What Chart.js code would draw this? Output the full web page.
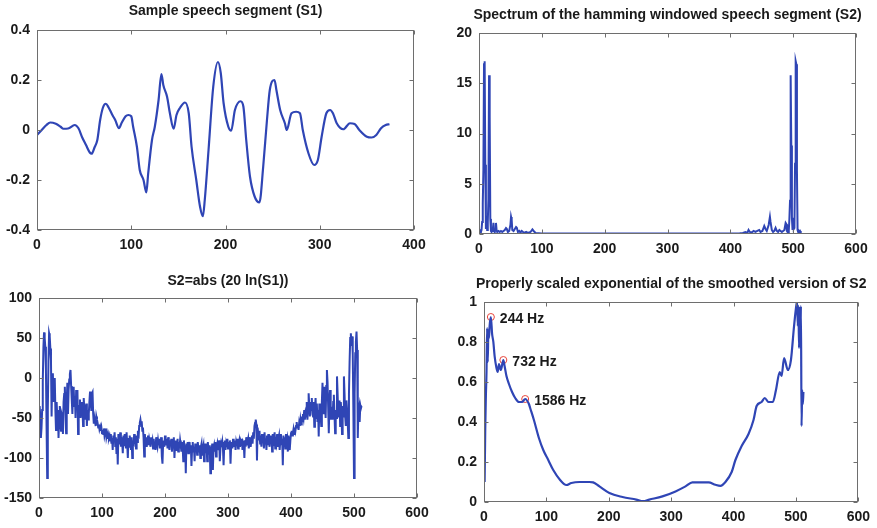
<!DOCTYPE html>
<html lang="en">
<head>
<meta charset="UTF-8">
<title>Speech segment analysis</title>
<script src="https://cdn.jsdelivr.net/npm/chart.js"></script>
<style>
  body { margin: 0; background: #fff; }
  .fig { position: relative; width: 877px; height: 528px; }
  .fig canvas { position: absolute; }
</style>
</head>
<body>
<div class="fig">
  <canvas id="c1" width="438" height="264" style="left:0;top:0"></canvas>
  <canvas id="c2" width="439" height="264" style="left:438px;top:0"></canvas>
  <canvas id="c3" width="438" height="264" style="left:0;top:264px"></canvas>
  <canvas id="c4" width="439" height="264" style="left:438px;top:264px"></canvas>
</div>
<script>
// S1: sample speech segment (sample index / amplitude)
const s1X = [0,5,10,14,20,25,28,33,40,44, 48,52,56,58,61,64,67,70,73,76,
  80,83,87,90,94,97,100,102,106,109, 113,116,118,122,125,129,132,134,138,141,
  145,148,152,157,161,164,169,173,176,178, 182,187,192,195,198,203,206,210,216,219,
  222,226,231,236,240,244,247,252,254,258, 263,265,270,275,279,282,288,294,298,302,
  307,311,314,318,325,332,337,342,350,355, 360,365,370,374];
const s1Y = [-0.02,0.0,0.02,0.03,0.025,0.013,0.005,0.006,0.02,0.007,
  -0.03,-0.06,-0.09,-0.095,-0.07,-0.04,0.04,0.09,0.105,0.09,
  0.06,0.04,0.007,0.03,0.055,0.06,0.055,0.013,-0.067,-0.16,
  -0.2,-0.25,-0.173,-0.04,0.013,0.12,0.224,0.18,0.133,0.067,
  0.005,0.06,0.09,0.11,0.067,-0.067,-0.2,-0.307,-0.345,-0.28,
  -0.08,0.173,0.272,0.227,0.107,0.013,-0.003,0.08,0.115,0.093,
  -0.04,-0.187,-0.267,-0.29,-0.147,0.04,0.16,0.2,0.16,0.08,
  0.027,0.0,0.067,0.073,0.067,0.0,-0.093,-0.14,-0.12,-0.027,
  0.067,0.08,0.067,0.027,0.003,0.027,0.024,0.0,-0.027,-0.03,
  -0.02,0.007,0.02,0.023];

// Spectrum of the hamming windowed segment
const specX = [1,2,3,4,5,6,7,8,9,10,11,12,13,14,15,16,17,18,19,20,
  21,22,23,24,25,26,27,28,29,31,33,35,37,39,41,43,44,46,48,50,
  51,52,53,55,57,59,60,62,64,66,68,70,72,75,78,82,85,87,90,95,
  100,150,200,250,300,350,400,415,420,424,427,429,431,434,437,440,443,446,448,451,
  454,456,458,461,463,464,466,468,470,472,474,476,478,480,482,484,486,488,489,490,
  491,492,493,494,495,496,497,498,499,500,501,502,503,504,505,506,507,508,509,510,
  511,512];
const specY = [0.2,0.3,0.2,0.4,1.2,3.0,6.4,16.9,17.2,6.9,0.5,1.6,0.4,1.2,3.5,15.8,11.7,1.5,0.3,0.2,
  0.3,0.5,1.1,0.4,0.2,0.4,1.1,0.4,0.2,0.3,0.2,0.3,0.2,0.3,0.4,0.6,0.55,0.2,0.3,0.9,
  1.7,1.4,0.4,0.3,0.5,0.7,0.65,0.2,0.3,0.15,0.3,0.2,0.1,0.2,0.1,0.2,0.45,0.3,0.1,0.08,
  0.05,0.05,0.05,0.05,0.05,0.05,0.05,0.08,0.1,0.2,0.1,0.4,0.2,0.15,0.3,0.2,0.3,0.4,0.2,0.3,
  0.8,0.5,0.3,0.9,1.7,1.2,0.4,0.2,0.3,0.6,0.3,0.2,0.4,0.3,0.2,0.3,0.4,1.1,1.0,0.3,
  0.2,0.5,0.3,1.5,3.3,15.8,8.8,1.6,0.4,1.6,0.5,0.6,7.0,17.2,16.9,6.3,0.4,0.2,0.3,0.2,
  0.3,0.2];

// S2 = abs(20 ln(S1)), one value per bin 1..512
const logY = [
  -35,-48,-75,-62,-40,-5,38,57,50,39,10,-60,-125,-40,20,56,
  52,37,22,-48,0,6,-30,-10,0,-40,-65,-30,-48,-40,-75,-50,
  -35,-58,-66,-45,-48,-70,-30,-20,-11,-40,-69,-30,-6,-45,-15,-2,
  5,10,-10,-27,-45,-20,-11,-35,-23,-50,-15,-30,-15,-70,-45,-35,
  -27,-50,-40,-30,-40,-60,-25,-40,-52,-45,-32,-60,-40,-52,-45,-30,
  -17,-25,-40,-20,-18,-45,-57,-50,-55,-60,-48,-52,-56,-62,-58,-64,
  -61,-66,-62,-69,-65,-70,-63,-72,-68,-63,-74,-70,-76,-71,-75,-72,
  -78,-70,-82,-75,-90,-72,-80,-68,-85,-74,-95,-76,-108,-70,-82,-78,
  -68,-86,-74,-80,-94,-72,-84,-70,-78,-88,-68,-82,-100,-75,-86,-72,
  -80,-90,-74,-100,-78,-86,-70,-82,-76,-88,-72,-80,-66,-76,-60,-56,
  -52,-58,-54,-66,-62,-75,-98,-70,-80,-74,-86,-78,-72,-84,-76,-80,
  -86,-74,-82,-78,-88,-76,-84,-80,-90,-74,-82,-86,-78,-84,-76,-88,
  -80,-74,-98,-107,-82,-78,-86,-72,-84,-80,-76,-88,-74,-82,-90,-78,
  -84,-76,-92,-80,-86,-74,-100,-82,-78,-90,-84,-76,-92,-80,-88,-78,
  -84,-92,-80,-86,-104,-78,-90,-84,-119,-82,-88,-80,-94,-86,-80,-92,
  -84,-110,-88,-80,-92,-86,-104,-82,-90,-84,-96,-80,-88,-92,-84,-100,
  -86,-82,-96,-88,-84,-104,-90,-82,-94,-86,-104,-80,-92,-88,-84,-119,
  -86,-90,-82,-115,-88,-84,-92,-80,-98,-86,-82,-90,-84,-78,-104,-88,
  -82,-86,-80,-88,-109,-84,-78,-90,-82,-86,-76,-88,-80,-84,-78,-107,
  -84,-80,-88,-76,-86,-82,-78,-90,-80,-84,-76,-88,-82,-78,-86,-80,
  -84,-76,-90,-80,-82,-100,-78,-86,-74,-84,-80,-76,-88,-82,-74,-86,
  -78,-72,-82,-68,-76,-60,-56,-52,-58,-103,-62,-70,-78,-66,-82,-72,
  -86,-70,-80,-74,-88,-68,-82,-76,-90,-72,-84,-70,-78,-86,-72,-80,
  -74,-92,-70,-84,-76,-68,-88,-74,-80,-70,-86,-76,-72,-90,-78,-70,
  -84,-76,-109,-72,-82,-74,-88,-70,-80,-76,-92,-72,-84,-90,-78,-69,
  -66,-72,-69,-64,-70,-62,-66,-60,-55,-62,-58,-65,-56,-60,-52,-58,
  -48,-54,-45,-50,-40,-52,-44,-48,-30,-52,-40,-19,-35,-48,-30,-40,
  -25,-45,-48,-30,-61,-40,-25,-50,-32,-55,-40,-73,-32,-50,-45,-60,
  -30,-6,-44,-20,-11,-35,-50,-10,10,-5,-36,-69,-30,-15,-52,-40,
  -36,-52,-30,-21,-45,-69,-40,-50,2,-20,-48,-35,-28,-60,-30,-40,
  -70,-35,-48,2,-20,-48,-60,-28,-40,-55,-75,-20,20,50,56,40,
  52,30,-40,-125,-20,31,45,58,35,-75,-40,-36,-55,-34,-38,-35
];

// smoothed, scaled exponential of S2
const envX = [1,2,3,4,5,6,7,8,9,11,13,15,17,20,22,24,27,31,33,36,
  40,45,50,56,61,66,72,74,80,88,95,103,111,122,132,140,153,169,175,185,
  201,222,244,255,265,286,307,323,334,360,371,379,387,397,403,413,424,432,437,445,
  450,456,463,468,474,477,481,487,492,497,501,502,503,504,505,506,507,508,509,510,
  511,512];
const envY = [0.10,0.37,0.53,0.65,0.87,0.70,0.86,0.82,0.88,0.925,0.84,0.80,0.73,0.67,0.65,0.69,0.66,0.71,0.68,0.63,
  0.59,0.55,0.52,0.50,0.50,0.515,0.49,0.47,0.41,0.32,0.26,0.21,0.16,0.11,0.085,0.095,0.10,0.10,0.098,0.078,
  0.045,0.025,0.012,0.004,0.012,0.028,0.053,0.078,0.098,0.098,0.086,0.081,0.10,0.15,0.21,0.28,0.34,0.41,0.48,0.50,
  0.52,0.50,0.50,0.56,0.65,0.63,0.72,0.66,0.71,0.88,0.99,1.0,0.88,0.98,0.77,0.97,0.78,0.98,0.38,0.56,
  0.49,0.55];

// formant peaks
const peakX = [11, 31, 66];
const peakY = [0.925, 0.71, 0.515];
const peakLabels = ['244 Hz', '732 Hz', '1586 Hz'];

const BLUE = '#2f45b5';
const INK = '#1a1a1a';
const FONT = "'Liberation Sans', Arial, sans-serif";

Chart.defaults.font.family = FONT;
Chart.defaults.font.size = 14;
Chart.defaults.font.weight = 'bold';
Chart.defaults.color = INK;

const pts = (xs, ys) => xs.map((x, i) => ({ x: x, y: ys[i] }));
// matlab prints 1 rather than 1.0
const fmt = v => String(Number(v.toFixed(3)));

// matlab style box with inward ticks, title centred over the axes
const framePlugin = {
  id: 'frame',
  afterDatasetsDraw(chart, args, opts) {
    const { ctx, chartArea: a, scales } = chart;
    const l = Math.round(a.left) + 0.5, r = Math.round(a.right) - 0.5;
    const t = Math.round(a.top) + 0.5, b = Math.round(a.bottom) - 0.5;
    ctx.save();
    ctx.strokeStyle = '#6e6e6e';
    ctx.lineWidth = 1;
    ctx.strokeRect(l, t, r - l, b - t);
    ctx.beginPath();
    scales.x.ticks.forEach(tk => {
      const px = Math.round(scales.x.getPixelForValue(tk.value)) + 0.5;
      ctx.moveTo(px, b); ctx.lineTo(px, b - 4);
      ctx.moveTo(px, t); ctx.lineTo(px, t + 4);
    });
    scales.y.ticks.forEach(tk => {
      const py = Math.round(scales.y.getPixelForValue(tk.value)) + 0.5;
      ctx.moveTo(l, py); ctx.lineTo(l + 4, py);
      ctx.moveTo(r, py); ctx.lineTo(r - 4, py);
    });
    ctx.stroke();
    if (opts && opts.title) {
      ctx.font = 'bold 14px ' + FONT;
      ctx.fillStyle = INK;
      ctx.textAlign = 'center';
      ctx.textBaseline = 'middle';
      ctx.fillText(opts.title, (a.left + a.right) / 2, a.top - opts.titleGap);
    }
    ctx.restore();
  }
};

const peakLabelPlugin = {
  id: 'peakLabels',
  afterDatasetsDraw(chart, args, opts) {
    if (!opts || !opts.labels) return;
    const meta = chart.getDatasetMeta(opts.datasetIndex);
    const ctx = chart.ctx;
    ctx.save();
    ctx.font = 'bold 14px ' + FONT;
    ctx.fillStyle = INK;
    ctx.textAlign = 'left';
    ctx.textBaseline = 'middle';
    meta.data.forEach((p, i) => ctx.fillText(opts.labels[i], p.x + 9, p.y + 2));
    ctx.restore();
  }
};

Chart.register(framePlugin, peakLabelPlugin);

function makeChart(id, s) {
  return new Chart(document.getElementById(id), {
    type: 'line',
    data: { datasets: s.datasets },
    options: {
      responsive: false,
      animation: false,
      devicePixelRatio: 1,
      layout: { padding: s.pad },
      plugins: {
        legend: { display: false },
        tooltip: { enabled: false },
        title: { display: false },
        frame: { title: s.title, titleGap: s.titleGap },
        peakLabels: s.peakLabels || {}
      },
      scales: {
        x: {
          type: 'linear',
          min: s.x[0], max: s.x[1],
          ticks: { stepSize: s.x[2], padding: 7, maxRotation: 0, autoSkip: false, callback: fmt },
          grid: { display: false, drawTicks: false },
          border: { display: false },
          afterFit: sc => { sc.height = s.xH; }
        },
        y: {
          min: s.y[0], max: s.y[1],
          ticks: { stepSize: s.y[2], padding: 7, autoSkip: false, callback: fmt },
          grid: { display: false, drawTicks: false },
          border: { display: false },
          afterFit: sc => { sc.width = s.yW; }
        }
      }
    }
  });
}

makeChart('c1', {
  title: 'Sample speech segment (S1)',
  datasets: [{ data: pts(s1X, s1Y), borderColor: BLUE, borderWidth: 2.2, pointRadius: 0, cubicInterpolationMode: 'monotone' }],
  x: [0, 400, 100], y: [-0.4, 0.4, 0.2],
  yW: 37, xH: 28,
  pad: { left: 0, right: 24, top: 30, bottom: 6 },
  titleGap: 18.5
});

makeChart('c2', {
  title: 'Spectrum of the hamming windowed speech segment (S2)',
  datasets: [{ data: pts(specX, specY), borderColor: BLUE, borderWidth: 2, pointRadius: 0, tension: 0 }],
  x: [0, 600, 100], y: [0, 20, 5],
  yW: 41, xH: 26,
  pad: { left: 0, right: 21, top: 33, bottom: 4 },
  titleGap: 18
});

makeChart('c3', {
  title: 'S2=abs (20 ln(S1))',
  datasets: [{ data: logY.map((v, i) => ({ x: i + 1, y: v })), borderColor: BLUE, borderWidth: 2, pointRadius: 0, tension: 0 }],
  x: [0, 600, 100], y: [-150, 100, 50],
  yW: 39, xH: 26,
  pad: { left: 0, right: 21, top: 34, bottom: 4 },
  titleGap: 16.5
});

makeChart('c4', {
  title: 'Properly scaled exponential of the smoothed version of S2',
  datasets: [
    { data: pts(envX, envY), borderColor: BLUE, borderWidth: 2.2, pointRadius: 0, cubicInterpolationMode: 'monotone' },
    { data: pts(peakX, peakY), showLine: false, pointRadius: 3.5, pointBorderWidth: 1,
      pointBorderColor: '#e8453c', pointBackgroundColor: 'rgba(0,0,0,0)', borderColor: '#e8453c' }
  ],
  x: [0, 600, 100], y: [0, 1, 0.2],
  yW: 46, xH: 24,
  pad: { left: 0, right: 16, top: 38, bottom: 2 },
  titleGap: 18,
  peakLabels: { datasetIndex: 1, labels: peakLabels }
});
</script>
</body>
</html>
